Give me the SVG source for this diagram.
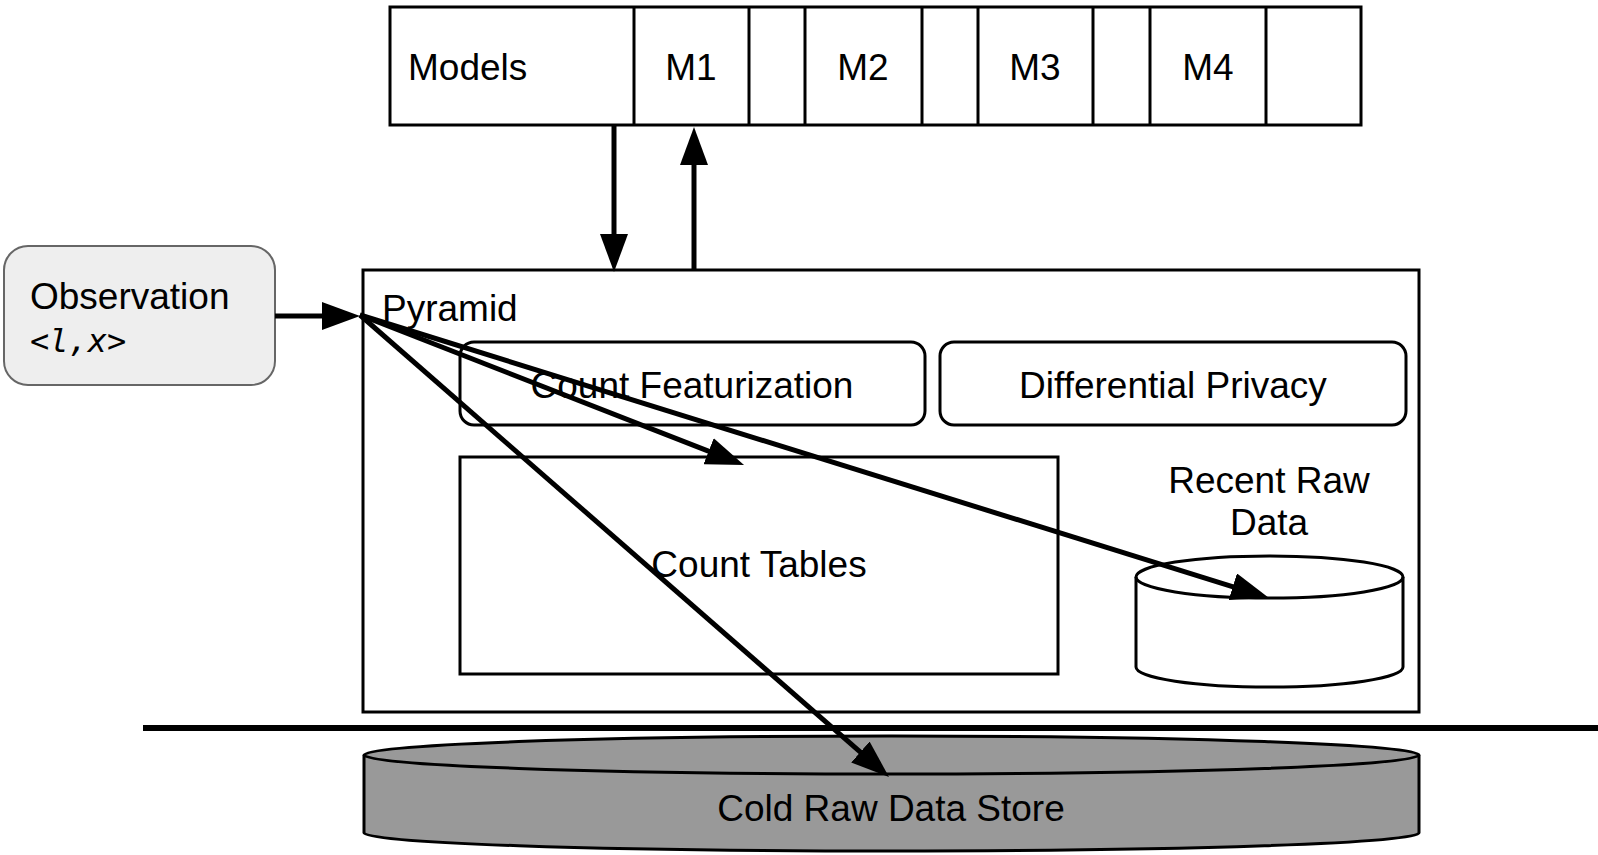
<svg xmlns="http://www.w3.org/2000/svg" width="1598" height="855" viewBox="0 0 1598 855">
<style>
  .t { font-family: "Liberation Sans", Arial, sans-serif; font-size: 37px; fill: #000; }
  .m { text-anchor: middle; }
  .box { fill: #fff; stroke: #000; stroke-width: 3; }
  .conn { fill: none; stroke: #000; stroke-width: 5; }
</style>
<defs>
  <marker id="ah" markerUnits="userSpaceOnUse" markerWidth="38" markerHeight="28" viewBox="0 0 38 28" refX="8" refY="14" orient="auto">
    <path d="M0,0 L38,14 L0,28 Z" fill="#000"/>
  </marker>
</defs>
<rect width="1598" height="855" fill="#fff"/>

<g id="models">
  <rect class="box" x="390" y="7" width="971" height="118"/>
  <line x1="634" y1="7" x2="634" y2="125" stroke="#000" stroke-width="3"/>
  <line x1="749" y1="7" x2="749" y2="125" stroke="#000" stroke-width="3"/>
  <line x1="805" y1="7" x2="805" y2="125" stroke="#000" stroke-width="3"/>
  <line x1="922" y1="7" x2="922" y2="125" stroke="#000" stroke-width="3"/>
  <line x1="978" y1="7" x2="978" y2="125" stroke="#000" stroke-width="3"/>
  <line x1="1093" y1="7" x2="1093" y2="125" stroke="#000" stroke-width="3"/>
  <line x1="1150" y1="7" x2="1150" y2="125" stroke="#000" stroke-width="3"/>
  <line x1="1266" y1="7" x2="1266" y2="125" stroke="#000" stroke-width="3"/>
  <text class="t" x="408" y="80">Models</text>
  <text class="t m" x="691" y="80">M1</text>
  <text class="t m" x="863" y="80">M2</text>
  <text class="t m" x="1035" y="80">M3</text>
  <text class="t m" x="1208" y="80">M4</text>
</g>

<g id="observation">
  <rect x="4" y="246" width="271" height="139" rx="24" ry="24" fill="#eeeeee" stroke="#666666" stroke-width="2"/>
  <text class="t" x="30" y="309">Observation</text>
  <text x="30" y="352" font-family="'DejaVu Sans Mono', monospace" font-style="italic" font-size="32" fill="#000">&lt;l,x&gt;</text>
</g>

<g id="pyramid">
  <rect class="box" x="363" y="270" width="1056" height="442"/>
  <text class="t" x="382" y="321">Pyramid</text>
</g>

<g id="count-featurization">
  <rect class="box" x="460" y="342" width="465" height="83" rx="14" ry="14"/>
  <text class="t m" x="692" y="398">Count Featurization</text>
</g>

<g id="differential-privacy">
  <rect class="box" x="940" y="342" width="466" height="83" rx="14" ry="14"/>
  <text class="t m" x="1173" y="398">Differential Privacy</text>
</g>

<g id="count-tables">
  <rect class="box" x="460" y="457" width="598" height="217"/>
  <text class="t m" x="759" y="577">Count Tables</text>
</g>

<g id="recent-raw-data">
  <text class="t m" x="1269" y="493">Recent Raw</text>
  <text class="t m" x="1269" y="535">Data</text>
  <path d="M1136,577 A133,21 0 0 1 1403,577 L1403,667 A133,20 0 0 1 1136,667 Z" fill="#fff" stroke="#000" stroke-width="3"/>
  <path d="M1136,577 A133,21 0 0 0 1403,577" fill="none" stroke="#000" stroke-width="3"/>
</g>

<g id="divider">
  <line x1="143" y1="728" x2="1598" y2="728" stroke="#000" stroke-width="6"/>
</g>

<g id="cold-raw-data-store">
  <path d="M364,755 A527.5,19 0 0 1 1419,755 L1419,833 A527.5,18 0 0 1 364,833 Z" fill="#999999" stroke="#000" stroke-width="3"/>
  <path d="M364,755 A527.5,19 0 0 0 1419,755" fill="none" stroke="#000" stroke-width="3"/>
  <text class="t m" x="891" y="821">Cold Raw Data Store</text>
</g>

<g id="connectors">
  <line class="conn" x1="614" y1="125" x2="614" y2="242" marker-end="url(#ah)"/>
  <line class="conn" x1="694" y1="270" x2="694" y2="157" marker-end="url(#ah)"/>
  <line class="conn" x1="275" y1="316" x2="330" y2="316" marker-end="url(#ah)"/>
  <line class="conn" x1="360" y1="315" x2="716.1" y2="454.1" marker-end="url(#ah)"/>
  <line class="conn" x1="360" y1="315" x2="1240.4" y2="589.1" marker-end="url(#ah)"/>
  <line class="conn" x1="360" y1="315" x2="866.4" y2="757.3" marker-end="url(#ah)"/>
</g>
</svg>
